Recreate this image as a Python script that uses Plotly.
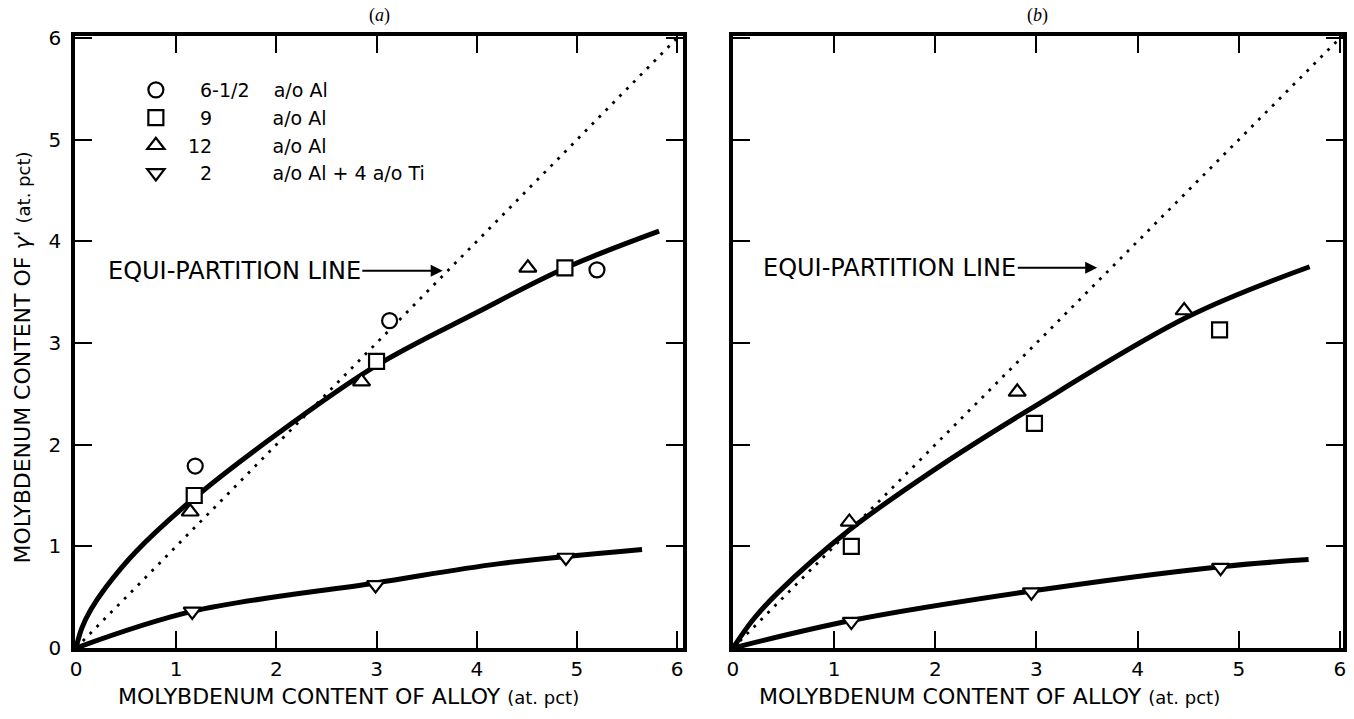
import plotly.graph_objects as go

# ---------------- data ----------------
tick_vals = [0, 1, 2, 3, 4, 5, 6]
tick_text = ["0", "1", "2", "3", "4", "5", "6"]

# panel (a)
a_circle_x = [1.19, 3.13, 5.20]
a_circle_y = [1.79, 3.22, 3.72]
a_square_x = [1.18, 3.00, 4.88]
a_square_y = [1.50, 2.82, 3.74]
a_tri_x = [1.14, 2.85, 4.51]
a_tri_y = [1.34, 2.62, 3.74]
a_down_x = [1.16, 2.99, 4.89]
a_down_y = [0.36, 0.62, 0.89]

a_upper_x = [0, 0.06, 0.15, 0.30, 0.60, 1.21, 2.00, 3.00, 4.00, 4.89, 5.82]
a_upper_y = [0, 0.20, 0.38, 0.60, 0.95, 1.50, 2.10, 2.78, 3.30, 3.74, 4.10]
a_lower_x = [0, 1.16, 2.99, 4.23, 5.65]
a_lower_y = [0, 0.36, 0.64, 0.83, 0.97]

# panel (b)
b_square_x = [1.17, 2.98, 4.81]
b_square_y = [1.00, 2.21, 3.13]
b_tri_x = [1.15, 2.81, 4.46]
b_tri_y = [1.24, 2.52, 3.32]
b_down_x = [1.17, 2.95, 4.82]
b_down_y = [0.26, 0.55, 0.79]

b_upper_x = [0, 0.20, 0.44, 1.15, 2.00, 2.92, 4.50, 5.70]
b_upper_y = [0, 0.28, 0.54, 1.16, 1.76, 2.34, 3.26, 3.75]
b_lower_x = [0, 1.17, 2.95, 4.82, 5.69]
b_lower_y = [0, 0.27, 0.56, 0.80, 0.87]

# equi-partition line (y = x)
equi_x = [0, 6.2]
equi_y = [0, 6.2]

FS = "\u2007"   # figure space (digit width)
NB = "\u00a0"   # no-break space
legend_names = [
    FS + NB * 2 + "6-1/2" + NB * 4 + "a/o Al",
    FS + NB * 2 + "9" + FS * 5 + "a/o Al",
    FS + "12" + FS * 5 + "a/o Al",
    FS + NB * 2 + "2" + FS * 5 + "a/o Al + 4 a/o Ti",
]

FONT = "DejaVu Sans"

fig = go.Figure()

def marker(symbol):
    return dict(symbol=symbol, size=15, color="white", line=dict(color="black", width=2.2))

curve = dict(color="black", width=5, shape="spline", smoothing=1.0)
dots = dict(color="black", width=2.8, dash="2.8px,7px")

# panel (a) lines
fig.add_trace(go.Scatter(x=equi_x, y=equi_y, mode="lines", line=dots, showlegend=False, xaxis="x", yaxis="y"))
fig.add_trace(go.Scatter(x=a_upper_x, y=a_upper_y, mode="lines", line=curve, showlegend=False, xaxis="x", yaxis="y"))
fig.add_trace(go.Scatter(x=a_lower_x, y=a_lower_y, mode="lines", line=curve, showlegend=False, xaxis="x", yaxis="y"))
# panel (a) points
fig.add_trace(go.Scatter(x=a_circle_x, y=a_circle_y, mode="markers", marker=marker("circle"), name=legend_names[0], xaxis="x", yaxis="y"))
fig.add_trace(go.Scatter(x=a_square_x, y=a_square_y, mode="markers", marker=marker("square"), name=legend_names[1], xaxis="x", yaxis="y"))
fig.add_trace(go.Scatter(x=a_tri_x, y=a_tri_y, mode="markers", marker=marker("triangle-up"), name=legend_names[2], xaxis="x", yaxis="y"))
fig.add_trace(go.Scatter(x=a_down_x, y=a_down_y, mode="markers", marker=marker("triangle-down"), name=legend_names[3], xaxis="x", yaxis="y"))

# panel (b)
fig.add_trace(go.Scatter(x=equi_x, y=equi_y, mode="lines", line=dots, showlegend=False, xaxis="x2", yaxis="y2"))
fig.add_trace(go.Scatter(x=b_upper_x, y=b_upper_y, mode="lines", line=curve, showlegend=False, xaxis="x2", yaxis="y2"))
fig.add_trace(go.Scatter(x=b_lower_x, y=b_lower_y, mode="lines", line=curve, showlegend=False, xaxis="x2", yaxis="y2"))
fig.add_trace(go.Scatter(x=b_square_x, y=b_square_y, mode="markers", marker=marker("square"), showlegend=False, xaxis="x2", yaxis="y2"))
fig.add_trace(go.Scatter(x=b_tri_x, y=b_tri_y, mode="markers", marker=marker("triangle-up"), showlegend=False, xaxis="x2", yaxis="y2"))
fig.add_trace(go.Scatter(x=b_down_x, y=b_down_y, mode="markers", marker=marker("triangle-down"), showlegend=False, xaxis="x2", yaxis="y2"))

axis_common = dict(
    tickmode="array", tickvals=tick_vals, ticktext=tick_text,
    ticks="inside", ticklen=17, tickwidth=2, tickcolor="black",
    showline=True, linewidth=3.5, linecolor="black", mirror="ticks",
    showgrid=False, zeroline=False,
    tickfont=dict(family=FONT, size=20, color="black"),
)

fig.update_layout(
    width=1354, height=719,
    margin=dict(l=75, r=7, t=36, b=71),
    paper_bgcolor="white", plot_bgcolor="white",
    font=dict(family=FONT, color="black"),
    xaxis=dict(domain=[0, 0.4796], range=[-0.01, 6.06], anchor="y", **axis_common),
    yaxis=dict(domain=[0, 1], range=[0, 6.02], anchor="x", ticklabelstandoff=6, **axis_common),
    xaxis2=dict(domain=[0.5189, 1], range=[0, 6.03], anchor="y2", **axis_common),
    yaxis2=dict(domain=[0, 1], range=[0, 6.02], anchor="x2", showticklabels=False, **axis_common),
    legend=dict(
        x=0.048, y=0.9428, xanchor="left", yanchor="top",
        bgcolor="rgba(0,0,0,0)", borderwidth=0,
        font=dict(family=FONT, size=19, color="black"),
        itemwidth=30, tracegroupgap=0,
    ),
    showlegend=True,
)

annotations = [
    dict(text="(<i>a</i>)", xref="x domain", yref="paper", x=0.5, y=1.0343,
         showarrow=False, font=dict(family="Liberation Serif", size=18), xanchor="center", yanchor="middle"),
    dict(text="(<i>b</i>)", xref="x2 domain", yref="paper", x=0.5, y=1.0343,
         showarrow=False, font=dict(family="Liberation Serif", size=18), xanchor="center", yanchor="middle"),
    dict(text="EQUI-PARTITION LINE", xref="x", yref="y", axref="x", ayref="y",
         x=3.66, y=3.71, ax=1.58, ay=3.71, showarrow=True, arrowhead=2, arrowsize=1.2,
         arrowwidth=2, arrowcolor="black", standoff=0, font=dict(family=FONT, size=24)),
    dict(text="EQUI-PARTITION LINE", xref="x2", yref="y2", axref="x2", ayref="y2",
         x=3.60, y=3.74, ax=1.55, ay=3.74, showarrow=True, arrowhead=2, arrowsize=1.2,
         arrowwidth=2, arrowcolor="black", standoff=0, font=dict(family=FONT, size=24)),
    dict(text="MOLYBDENUM CONTENT OF ALLOY <span style='font-size:18px'>(at. pct)</span>",
         xref="x domain", yref="paper", x=0.45, y=-0.08, showarrow=False,
         font=dict(family=FONT, size=22), xanchor="center", yanchor="middle"),
    dict(text="MOLYBDENUM CONTENT OF ALLOY <span style='font-size:18px'>(at. pct)</span>",
         xref="x2 domain", yref="paper", x=0.42, y=-0.08, showarrow=False,
         font=dict(family=FONT, size=22), xanchor="center", yanchor="middle"),
    dict(text="MOLYBDENUM CONTENT OF <i>γ'</i> <span style='font-size:18px'>(at. pct)</span>",
         xref="paper", yref="paper", x=-0.0417, y=0.475, showarrow=False, textangle=-90,
         font=dict(family=FONT, size=22), xanchor="center", yanchor="middle"),
]
fig.update_layout(annotations=annotations)

fig.write_html("out.html")
